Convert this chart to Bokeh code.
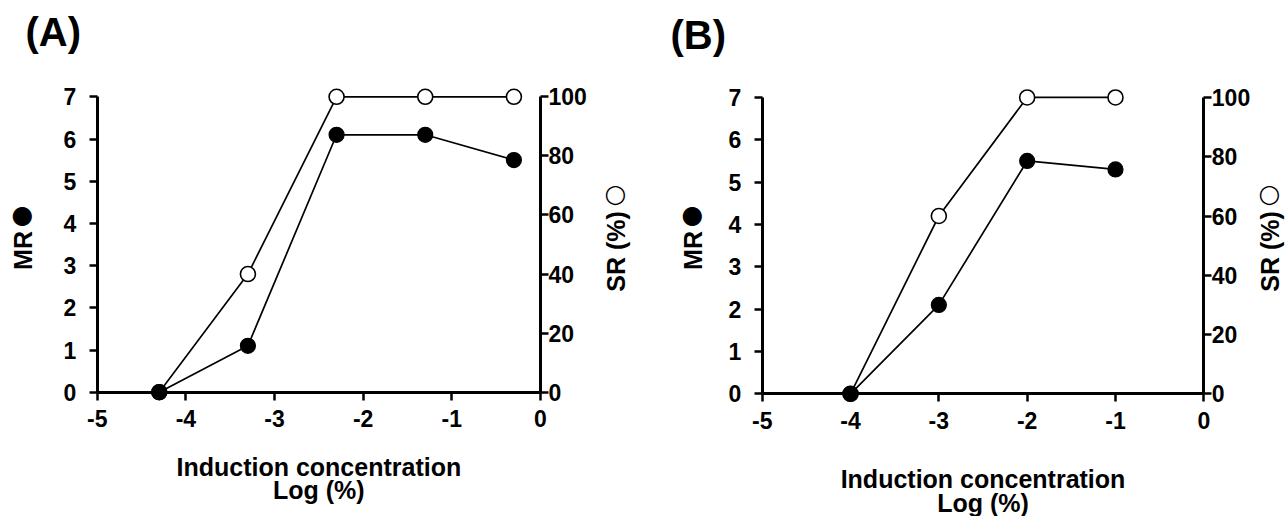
import math
from bokeh.plotting import figure
from bokeh.models import LinearAxis, Range1d, FixedTicker, Label, CustomJSTickFormatter
from bokeh.layouts import row
from bokeh.embed import file_html
from bokeh.resources import INLINE

# ---- data ----
a_x = [-4.3, -3.3, -2.3, -1.3, -0.3]
a_mr = [0, 1.1, 6.1, 6.1, 5.5]
a_sr = [0, 40, 100, 100, 100]

b_x = [-4, -3, -2, -1]
b_mr = [0, 2.1, 5.5, 5.3]
b_sr = [0, 60, 100, 100]

x_ticks = [-5, -4, -3, -2, -1, 0]
mr_ticks = [0, 1, 2, 3, 4, 5, 6, 7]
sr_ticks = [0, 20, 40, 60, 80, 100]

FONT = "Liberation Sans"
SYM_FONT = "DejaVu Sans"
SR_SCALE = 100 / 7
H = 516


def style_axis(ax, standoff):
    ax.axis_line_width = 3
    ax.axis_line_color = "black"
    ax.major_tick_line_width = 2.5
    ax.major_tick_line_color = "black"
    ax.major_tick_out = 8
    ax.major_tick_in = 0
    ax.minor_tick_line_color = None
    ax.major_label_text_font = FONT
    ax.major_label_text_font_style = "bold"
    ax.major_label_text_font_size = "23px"
    ax.major_label_text_color = "black"
    ax.major_label_standoff = standoff
    ax.formatter = CustomJSTickFormatter(code="return String(tick);")


def lab(p, text, x, y, xo, yo, size, angle=0.0, align="center", font=FONT, bold=True):
    p.add_layout(Label(x=x, y=y, x_offset=xo, y_offset=yo, text=text, angle=angle,
                       text_align=align, text_baseline="middle",
                       text_font=font, text_font_style="bold" if bold else "normal",
                       text_font_size=size, text_color="black"))


def panel(xs, mr, sr, tag, W, ax_left, ax_right, y0, y6, lay):
    ux = (ax_right - ax_left) / 5.0      # px per x unit
    uy = (y0 - y6) / 6.0                 # px per MR unit
    xs0 = -5 - ax_left / ux
    xs1 = xs0 + W / ux
    ytop = y0 / uy
    ybot = -(H - y0) / uy
    p = figure(frame_width=W, frame_height=H,
               min_border_left=0, min_border_top=0,
               min_border_right=0, min_border_bottom=0,
               x_range=Range1d(xs0, xs1), y_range=Range1d(ybot, ytop),
               x_axis_location=None, y_axis_location=None,
               output_backend="svg", toolbar_location=None)
    p.outline_line_color = None
    p.grid.grid_line_color = None
    p.background_fill_color = "white"
    p.border_fill_color = "white"
    p.extra_y_ranges = {"sr": Range1d(ybot * SR_SCALE, ytop * SR_SCALE)}

    xa = LinearAxis(fixed_location=0, bounds=(-5, 0), ticker=FixedTicker(ticks=x_ticks))
    style_axis(xa, 10)
    p.add_layout(xa, "below")

    ya = LinearAxis(fixed_location=-5, bounds=(0, 7), ticker=FixedTicker(ticks=mr_ticks))
    style_axis(ya, 13)
    p.add_layout(ya, "left")

    ra = LinearAxis(fixed_location=0, y_range_name="sr", bounds=(0, 100),
                    ticker=FixedTicker(ticks=sr_ticks))
    style_axis(ra, 0)
    p.add_layout(ra, "right")

    p.line(xs, [v / SR_SCALE for v in sr], line_color="black", line_width=1.7)
    p.line(xs, mr, line_color="black", line_width=1.7)
    p.scatter(xs, sr, y_range_name="sr", size=15, marker="circle",
              fill_color="white", line_color="black", line_width=1.6)
    p.scatter(xs, mr, size=15, marker="circle",
              fill_color="black", line_color="black", line_width=1.2)

    def yd(py):
        return (y0 - py) / uy

    # panel tag (glyph-centre anchors)
    lab(p, tag, -5, 0, lay["tag_x"] - ax_left, y0 - lay["tag_y"], "40px", align="left")
    # left axis title
    lab(p, "MR", -5, yd(250), lay["mr_x"] - ax_left, 0, "25px", angle=math.pi / 2)
    lab(p, "●", -5, yd(214), lay["mr_x"] - ax_left, 0, "25px", font=SYM_FONT, bold=False)
    # right axis title
    lab(p, "SR (%)", 0, yd(251), lay["sr_x"] - ax_right, 0, "25px", angle=math.pi / 2)
    lab(p, "○", 0, yd(193), lay["sr_x"] - ax_right, 0, "25px", font=SYM_FONT, bold=False)
    # x axis title
    lab(p, "Induction concentration", -2.5, 0, 0, -(lay["xt1"] - y0), "25px")
    lab(p, "Log (%)", -2.5, 0, 0, -(lay["xt2"] - y0), "25px")
    return p


pa = panel(a_x, a_mr, a_sr, "(A)", 648, 96.7, 540.0, 391.7, 138.5,
           dict(tag_x=25, tag_y=31, mr_x=22, sr_x=615, xt1=466, xt2=489))
pb = panel(b_x, b_mr, b_sr, "(B)", 637, 761.7 - 648, 1203.3 - 648, 393.3, 139.3,
           dict(tag_x=670 - 648, tag_y=34, mr_x=692 - 648, sr_x=1269 - 648, xt1=478, xt2=502))

layout = row(pa, pb)
open("out.html", "w").write(file_html(layout, INLINE))
